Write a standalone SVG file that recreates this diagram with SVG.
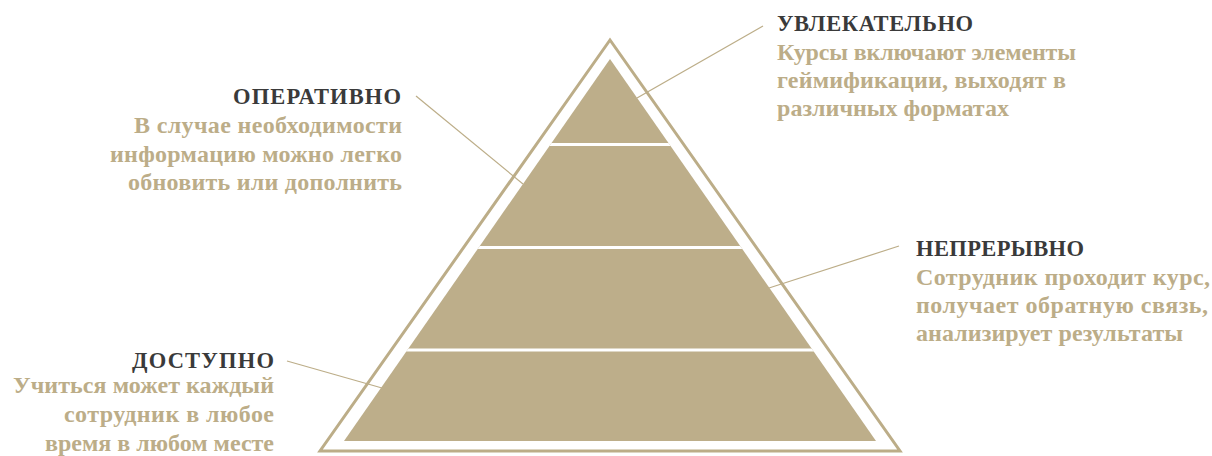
<svg xmlns="http://www.w3.org/2000/svg" width="1212" height="456" viewBox="0 0 1212 456">
<style>
.h{font-family:"Liberation Serif",serif;font-weight:bold;font-size:22.5px;fill:#3a3a3a}
.b{font-family:"Liberation Serif",serif;font-weight:bold;font-size:24px;fill:#bcad88}
.c{stroke:#bcad88;stroke-width:1.2;fill:none}
</style>
<defs>
<clipPath id="inner"><polygon points="610,59 344,441 876,441"/></clipPath>
</defs>
<rect width="1212" height="456" fill="#ffffff"/>
<g id="pyramid">
<polygon points="610,40 320,451 900,451" fill="none" stroke="#bcad88" stroke-width="3"/>
<polygon points="610,59 344,441 876,441" fill="#bdae8a"/>
<g stroke="#ffffff" stroke-width="3" clip-path="url(#inner)">
<line x1="300" y1="144.5" x2="920" y2="144.5"/>
<line x1="300" y1="247.5" x2="920" y2="247.5"/>
<line x1="300" y1="350" x2="920" y2="350"/>
</g>
</g>
<g id="connectors">
<line class="c" x1="763" y1="26" x2="637" y2="98"/>
<line class="c" x1="416" y1="96" x2="523" y2="184"/>
<line class="c" x1="899" y1="246" x2="769" y2="288"/>
<line class="c" x1="287" y1="361" x2="382" y2="388"/>
</g>
<g id="uvlekatelno">
<text class="h" x="777" y="30.5" textLength="196" lengthAdjust="spacing">УВЛЕКАТЕЛЬНО</text>
<text class="b" x="777" y="60" textLength="299" lengthAdjust="spacing">Курсы включают элементы</text>
<text class="b" x="777" y="88" textLength="289" lengthAdjust="spacing">геймификации, выходят в</text>
<text class="b" x="777" y="116" textLength="232" lengthAdjust="spacing">различных форматах</text>
</g>
<g id="operativno" text-anchor="end">
<text class="h" x="401" y="104" textLength="168" lengthAdjust="spacing">ОПЕРАТИВНО</text>
<text class="b" x="402" y="133" textLength="268" lengthAdjust="spacing">В случае необходимости</text>
<text class="b" x="402" y="161.5" textLength="292" lengthAdjust="spacing">информацию можно легко</text>
<text class="b" x="402" y="190" textLength="274" lengthAdjust="spacing">обновить или дополнить</text>
</g>
<g id="nepreryvno">
<text class="h" x="916" y="256" textLength="168" lengthAdjust="spacing">НЕПРЕРЫВНО</text>
<text class="b" x="916" y="285" textLength="294" lengthAdjust="spacing">Сотрудник проходит курс,</text>
<text class="b" x="916" y="313" textLength="292" lengthAdjust="spacing">получает обратную связь,</text>
<text class="b" x="916" y="341" textLength="267" lengthAdjust="spacing">анализирует результаты</text>
</g>
<g id="dostupno" text-anchor="end">
<text class="h" x="274" y="368" textLength="142" lengthAdjust="spacing">ДОСТУПНО</text>
<text class="b" x="274" y="393" textLength="261" lengthAdjust="spacing">Учиться может каждый</text>
<text class="b" x="274" y="422" textLength="210" lengthAdjust="spacing">сотрудник в любое</text>
<text class="b" x="274" y="451" textLength="229" lengthAdjust="spacing">время в любом месте</text>
</g>
</svg>
